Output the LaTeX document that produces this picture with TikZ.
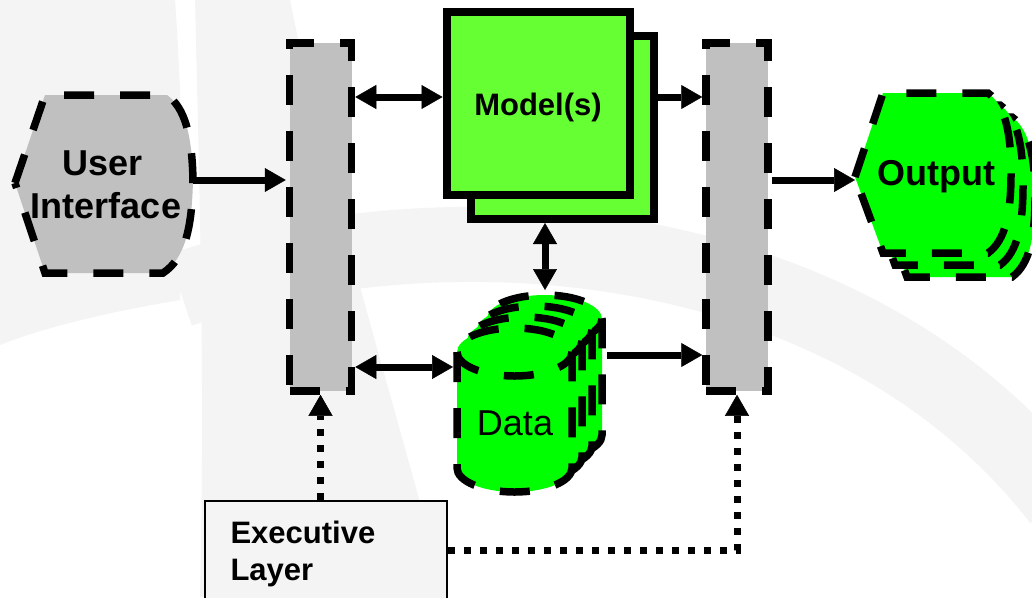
\documentclass[tikz,border=0pt]{standalone}
\usepackage{fontspec}
\setmainfont{Liberation Sans}
\usetikzlibrary{arrows.meta}
\definecolor{barg}{HTML}{C0C0C0}
\definecolor{modg}{HTML}{66FF33}
\definecolor{datg}{HTML}{00FF00}
\definecolor{wm}{HTML}{F4F4F4}
\tikzset{mytip/.tip={Triangle[length=21pt,width=24pt,line width=0.5pt]}}
\begin{document}
\begin{tikzpicture}[x=1pt,y=-1pt,
  dsh/.style={line width=7.5pt, dash pattern=on 30pt off 26pt},
  bar/.style={draw, dsh, fill=barg, minimum width=62pt, minimum height=348pt, inner sep=0pt},
  modelbox/.style={draw, line width=8pt, fill=modg, minimum width=183pt, minimum height=183pt, inner sep=0pt},
  ghost/.style={inner sep=0pt, outer sep=0pt},
  big/.style={font=\fontsize{36}{43}\selectfont\bfseries},
  bigr/.style={font=\fontsize{36}{43}\selectfont},
  mid/.style={font=\fontsize{31}{37}\selectfont\bfseries},
  arr/.style={line width=7pt, -{mytip}},
  dbl/.style={line width=7pt, {mytip}-{mytip}},
  dotarr/.style={line width=7pt, dash pattern=on 7pt off 9pt, -{mytip}}
]
\useasboundingbox (0,0) rectangle (1032,597);
\clip (0,0) rectangle (1032,597);
\fill[white] (0,0) rectangle (1032,597);

% faint watermark swooshes
\fill[wm] (0,0) -- (175,0) .. controls (182,100) and (185,220) .. (180,300)
  .. controls (120,310) and (50,325) .. (0,345) -- cycle;
\fill[wm] (195,0) -- (290,0) .. controls (330,200) and (400,420) .. (445,597)
  -- (200,597) .. controls (205,400) and (200,200) .. (195,0) -- cycle;
\draw[wm, line width=75pt] (180,290) .. controls (450,200) and (850,230) .. (1060,500);

% user interface
\filldraw[fill=barg, dsh] (15,183) -- (45,95) -- (167,95)
  .. controls (185,108) and (192,135) .. (193,180)
  .. controls (192,225) and (186,258) .. (163,273) -- (45,273) -- cycle;
\node[ghost, minimum width=178pt, minimum height=178pt] (ui) at (104,180) {};
\node[big, anchor=base] (uit1) at (103,175) {User};
\node[big, anchor=base] (uit2) at (106,218) {Interface};

% bars
\node[bar] (lbar) at (320.5,217) {};
\node[bar] (rbar) at (737,217) {};

% models
\node[modelbox] (modelB) at (562.5,127.5) {};
\node[modelbox] (modelF) at (538,103.5) {};
\node[mid, anchor=base] (modelt) at (538,115) {Model(s)};

% data cylinders
\foreach \d in {3,2,1,0} {
 \begin{scope}[shift={(10*\d,-11*\d)}]
  \filldraw[fill=datg, dsh] (457,352) -- (457,468)
    .. controls (457,481.25) and (482.76,492) .. (514.5,492)
    .. controls (546.24,492) and (572,481.25) .. (572,468) -- (572,352)
    .. controls (572,338.75) and (546.24,328) .. (514.5,328)
    .. controls (482.76,328) and (457,338.75) .. (457,352) -- cycle;
  \draw[dsh] (457,352) .. controls (457,365.25) and (482.76,376) .. (514.5,376)
    .. controls (546.24,376) and (572,365.25) .. (572,352);
 \end{scope}
}
\node[bigr, anchor=base] (datat) at (515,435) {Data};
\coordinate (dataW) at (453,367);
\coordinate (dataE) at (607,355);
\coordinate (dataN) at (545,290);

% output
\foreach \d in {2,1,0} {
 \begin{scope}[shift={(12*\d,12*\d)}]
  \filldraw[fill=datg, dsh] (855,177) -- (883,93) -- (988,93)
    .. controls (1006,106) and (1011,135) .. (1011,173)
    .. controls (1011,212) and (1006,240) .. (988,253) -- (883,253) -- cycle;
 \end{scope}
}
\node[ghost, minimum width=157pt, minimum height=160pt] (out) at (933.5,180) {};
\node[big, anchor=base] (outt) at (936,185) {Output};

% executive layer
\node[draw, line width=2.5pt, fill=wm, minimum width=242pt, minimum height=138pt, inner sep=0pt] (exec) at (326,570) {};
\node[mid, anchor=base west] (exect1) at (227,543) {Executive};
\node[mid, anchor=base west] (exect2) at (227,580) {Layer};

% connectors
\draw[arr] (ui.east) -- (ui.east -| lbar.west);
\coordinate (m97) at ([yshift=6.5pt]modelF.west);
\draw[dbl] (m97 -| lbar.east) -- (m97);
\draw[arr] (m97 -| modelB.east) -- (m97 -| rbar.west);
\draw[dbl] (modelB.south -| dataN) -- (dataN);
\draw[dbl] (dataW -| lbar.east) -- (dataW);
\draw[arr] (dataE) -- (dataE -| rbar.west);
\draw[arr] (out.west -| rbar.east) -- (out.west);
\draw[dotarr] (lbar.south |- exec.north) -- (lbar.south);
\coordinate (ex550) at ([yshift=20pt]exec.east);
\draw[dotarr] (ex550) -| (rbar.south);
\end{tikzpicture}
\end{document}
